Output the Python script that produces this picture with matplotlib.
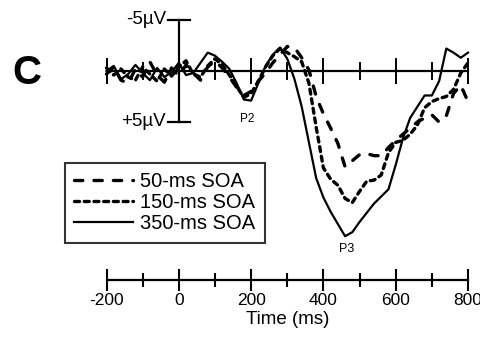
import matplotlib
matplotlib.use("Agg")
import matplotlib.pyplot as plt
import numpy as np

plt.rcParams['font.family'] = ['Liberation Sans', 'DejaVu Sans']
plt.rcParams['lines.scale_dashes'] = False

# ---- data (time in ms, amplitude in microvolts, positive plotted downward) ----
time_ms = list(range(-200, 801, 20))

soa_50 = [0.3, -0.4, 0.9, 1.2, -0.2, 0.6, -0.9, 0.4, 1.1, -0.3,
          0.5, -0.6, 0.2, 0.9, -0.4, -1.0, -0.3, 0.6, 1.6, 2.4,
          2.0, 1.0, 0.2, -0.8, -1.6, -2.4, -2.3, -1.3, -0.1, 2.5,
          4.2, 5.6, 7.1, 9.4, 8.8, 8.2, 8.1, 8.3, 8.3, 7.5,
          6.8, 6.2, 5.6, 5.0, 4.6, 4.3, 5.0, 4.4, 2.2, 1.4, 3.0]

soa_150 = [-0.3, 0.4, -0.2, 0.6, 0.9, -0.4, 0.3, 1.0, -0.2, 0.5,
           -0.4, -1.0, 0.3, 0.6, -0.5, -1.2, -0.6, 0.4, 1.5, 2.6,
           2.2, 1.0, -0.4, -1.5, -2.2, -1.8, -1.4, -0.9, 1.2, 5.5,
           9.5, 10.6, 11.2, 12.5, 12.9, 11.8, 10.8, 10.7, 10.2, 8.0,
           7.0, 6.8, 6.2, 5.3, 3.6, 3.0, 2.7, 2.5, 1.8, 0.2, -0.8]

soa_350 = [0.0, -0.5, 0.8, 0.3, -0.6, 0.2, 0.9, -0.3, 0.6, 0.1,
           -0.8, 0.4, 0.2, -0.8, -1.8, -1.5, -0.9, -0.2, 1.2, 2.8,
           2.9, 1.2, -0.5, -1.6, -2.3, -1.2, 0.8, 3.5, 7.0, 10.5,
           12.4, 13.8, 15.0, 16.2, 15.8, 14.8, 13.9, 13.0, 12.3, 11.6,
           9.2, 6.6, 4.6, 3.5, 2.4, 2.4, 1.0, -2.2, -1.8, -1.3, -1.8]

labels = ['50-ms SOA', '150-ms SOA', '350-ms SOA']
major_ticks = [-200, 0, 200, 400, 600, 800]
minor_ticks = [-100, 100, 300, 500, 700]
tick_labels = ['-200', '0', '200', '400', '600', '800']

W, H = 481, 337
fig = plt.figure(figsize=(W / 100, H / 100), dpi=100)

# pixel helpers for layout
def fx(px):
    return px / W

def fy(py):
    return 1 - py / H

# main waveform axes: t=-200 at x=106.5px, t=800 at x=468px; 0 uV at y=71px, 5uV = 51px
y_top_uv, y_bot_uv = -6.0, 18.0
px_per_uv = 51 / 5
top_px = 71 + y_top_uv * px_per_uv
bot_px = 71 + y_bot_uv * px_per_uv
ax = fig.add_axes([fx(106.5), fy(bot_px), fx(468) - fx(106.5), (bot_px - top_px) / H])
ax.set_xlim(-200, 800)
ax.set_ylim(y_bot_uv, y_top_uv)
ax.axis('off')

k = 'black'
l50, = ax.plot(time_ms, soa_50, color=k, lw=2.4, dashes=(6, 8), clip_on=False,
               dash_capstyle='round', label=labels[0])
l150, = ax.plot(time_ms, soa_150, color=k, lw=2.4, dashes=(3.6, 3.4), clip_on=False,
                dash_capstyle='round', label=labels[1])
l350, = ax.plot(time_ms, soa_350, color=k, lw=1.6, clip_on=False, label=labels[2])

# upper baseline axis
ax.plot([-200, 800], [0, 0], color=k, lw=1.6, clip_on=False)
tick_h_major = 1.2
tick_h_minor = 0.8
for t in major_ticks:
    ax.plot([t, t], [-tick_h_major, tick_h_major], color=k, lw=1.4, clip_on=False)
for t in minor_ticks:
    ax.plot([t, t], [-tick_h_minor, tick_h_minor], color=k, lw=1.4, clip_on=False)

# vertical amplitude scale at t=0
ax.plot([0, 0], [-5, 5], color=k, lw=1.6, clip_on=False)
for v in (-5, 5):
    ax.plot([-30, 30], [v, v], color=k, lw=1.6, clip_on=False)
ax.text(-36, -5, '-5µV', ha='right', va='center', fontsize=13.5)
ax.text(-36, 5, '+5µV', ha='right', va='center', fontsize=13.5)

# component labels
ax.text(188, 4.7, 'P2', ha='center', va='center', fontsize=8.5)
ax.text(463, 17.5, 'P3', ha='center', va='center', fontsize=9)

# panel letter
fig.text(fx(27), fy(73), 'C', ha='center', va='center', fontsize=29, fontweight='bold')

# legend
leg = ax.legend(handles=[l50, l150, l350], loc='upper left',
                bbox_to_anchor=(fx(65), fy(163)), bbox_transform=fig.transFigure,
                frameon=True, fancybox=False, fontsize=14.5, handlelength=2.9,
                handletextpad=0.35, labelspacing=0.1, borderpad=0.47,
                borderaxespad=0)
leg.get_frame().set_edgecolor('black')
leg.get_frame().set_linewidth(1.5)

# bottom time axis
ax2 = fig.add_axes([fx(106.5), fy(280), fx(468) - fx(106.5), 0.05])
ax2.set_xlim(-200, 800)
ax2.patch.set_alpha(0)
for s in ('top', 'left', 'right'):
    ax2.spines[s].set_visible(False)
ax2.spines['bottom'].set_linewidth(1.6)
ax2.set_yticks([])
ax2.set_xticks(major_ticks)
ax2.set_xticklabels(tick_labels, fontsize=12.5)
ax2.set_xticks(minor_ticks, minor=True)
ax2.tick_params(axis='x', which='major', direction='inout', length=16, width=1.5, pad=1.5)
ax2.tick_params(axis='x', which='minor', direction='inout', length=10, width=1.5)
ax2.set_xlabel('Time (ms)', fontsize=13.5, labelpad=2)

fig.savefig('out.png', dpi=100, facecolor='white')
